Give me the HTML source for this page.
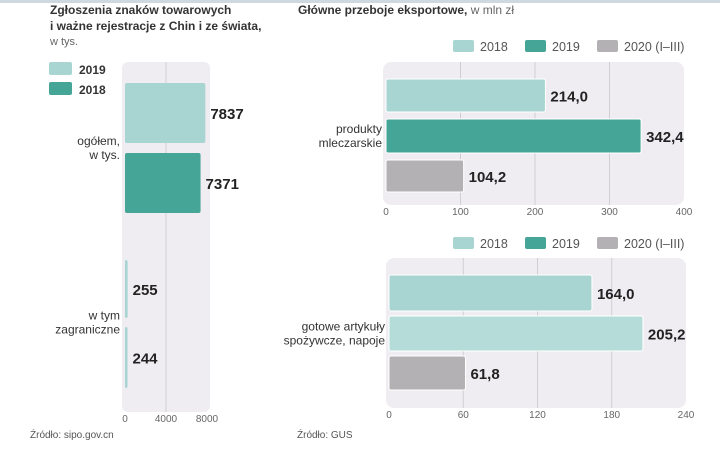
<!DOCTYPE html>
<html><head><meta charset="utf-8">
<style>
body{margin:0;width:720px;height:453px;background:#fff;overflow:hidden;font-family:"Liberation Sans Narrow","Liberation Sans",sans-serif;color:#222}
svg{position:absolute;left:0;top:0}
</style></head>
<body>
<svg id="c" width="720" height="453">
<rect x="0" y="0" width="720" height="3" fill="#cfd8e0"/>
<text x="50" y="14" font-size="12" font-weight="bold" fill="#333">Zgłoszenia znaków towarowych</text>
<text x="50" y="30" font-size="12" font-weight="bold" fill="#333">i ważne rejestracje z Chin i ze świata,</text>
<text x="50" y="45" font-size="11" fill="#666">w tys.</text>
<text x="298" y="14" font-size="12" font-weight="bold" fill="#333">Główne przeboje eksportowe,<tspan font-weight="normal" fill="#666"> w mln zł</tspan></text>
<text x="30" y="438" font-size="10" fill="#555">Źródło: sipo.gov.cn</text>
<text x="297" y="438" font-size="10" fill="#555">Źródło: GUS</text>
<g id="g"></g>
</svg>
<script>
const leftCats=["ogółem, w tys.","w tym zagraniczne"];
const left2019=[7837,255];
const left2018=[7371,244];
const leftTicks=[0,4000,8000];
const dairyVals=[214.0,342.4,104.2];
const dairyTicks=[0,100,200,300,400];
const foodVals=[164.0,205.2,61.8];
const foodTicks=[0,60,120,180,240];
const seriesNames=["2018","2019","2020 (I–III)"];
const LIGHT="#a8d5d1",DARK="#45a597",GREY="#b3b1b3",PANEL="#efedf1";
const NS="http://www.w3.org/2000/svg";
const g=document.getElementById('g');
function el(t,a,txt){const e=document.createElementNS(NS,t);for(const k in a)e.setAttribute(k,a[k]);if(txt!==undefined)e.textContent=txt;g.appendChild(e);return e;}
function fmt(v){return v.toFixed(1).replace('.',',');}

// left chart
const lx=v=>125+v/8000*82;
let e=el('rect',{x:122,y:62,width:88,height:350,rx:6,fill:PANEL});

leftTicks.forEach(t=>{
 if(t>0&&t<8000){e=el('line',{x1:lx(t),x2:lx(t),y1:62,y2:412,stroke:"#cfcfd2"});
 }
 e=el('text',{x:lx(t),y:422,'font-size':10,fill:'#666','text-anchor':'middle'},t);
 
});
const lgY=[[83,143,153,213],[260,318,327,388]];
leftCats.forEach((c,i)=>{
 const [a1,a2,b1,b2]=lgY[i];
 e=el('rect',{x:125,y:a1,width:Math.max(1,lx(left2019[i])-125),height:a2-a1,rx:2,fill:LIGHT});
 
 e=el('rect',{x:125,y:b1,width:Math.max(1,lx(left2018[i])-125),height:b2-b1,rx:2,fill:i==0?DARK:LIGHT});
 
 e=el('text',{x:Math.max(lx(left2019[i]),125)+5,y:(a1+a2)/2+6,'font-size':15,'font-weight':'bold',fill:'#222'},left2019[i]);
 
 e=el('text',{x:Math.max(lx(left2018[i]),125)+5,y:(b1+b2)/2+6,'font-size':15,'font-weight':'bold',fill:'#222'},left2018[i]);
 
 const parts=i==0?["ogółem,","w tys."]:["w tym","zagraniczne"];
 const cy=(a2+b1)/2;
 parts.forEach((p,j)=>{e=el('text',{x:120,y:cy-3+j*14,'font-size':12,fill:'#333','text-anchor':'end'},p);
 });
});
// left legend
[[LIGHT,"2019",69],[DARK,"2018",89]].forEach(([c,t,y])=>{
 e=el('rect',{x:49,y:y-7,width:23,height:13,rx:2,fill:c});
 
 e=el('text',{x:79,y:y+5,'font-size':12,'font-weight':'bold',fill:'#333'},t);
 
});

function rightChart(vals,ticks,max,x0,x1,py1,py2,barY,colors,legY,label,prefix){
 const sx=v=>x0+v/max*(x1-x0);
 let e=el('rect',{x:x0-3,y:py1,width:x1-x0+3,height:py2-py1,rx:8,fill:PANEL});
 
 ticks.forEach(t=>{
  if(t>0&&t<max){e=el('line',{x1:sx(t),x2:sx(t),y1:py1,y2:py2,stroke:"#cfcfd2"});
  }
  e=el('text',{x:sx(t),y:py2+10,'font-size':10,fill:'#666','text-anchor':'middle'},t);
  
 });
 vals.forEach((v,i)=>{
  const [y1,y2]=barY[i];
  e=el('rect',{x:x0,y:y1,width:sx(v)-x0,height:y2-y1,rx:2,fill:colors[i],stroke:'#fff','stroke-width':1});
  
  e=el('text',{x:sx(v)+5,y:(y1+y2)/2+6,'font-size':15,'font-weight':'bold',fill:'#222'},fmt(v));
  
 });
 label.forEach((p,j)=>{e=el('text',{x:x0-4,y:(barY[1][0]+barY[1][1])/2-3+j*14,'font-size':12,fill:'#333','text-anchor':'end'},p);
  });
 const lx=[453,525,597];const lc=[LIGHT,DARK,GREY];
 seriesNames.forEach((s,i)=>{
  e=el('rect',{x:lx[i],y:legY-6,width:21,height:12,rx:2,fill:lc[i]});
  
  e=el('text',{x:lx[i]+27,y:legY+5,'font-size':12.5,fill:'#555'},s);
  
 });
}
rightChart(dairyVals,dairyTicks,400,386,684,62,205,[[79,112],[119,153],[160,192]],[LIGHT,DARK,GREY],46,["produkty","mleczarskie"],'dairy');
rightChart(foodVals,foodTicks,240,389,686,258,408,[[275,311],[316,351],[356,390]],[LIGHT,"#b5dcd8",GREY],243,["gotowe artykuły","spożywcze, napoje"],'food');
</script>
</body></html>
